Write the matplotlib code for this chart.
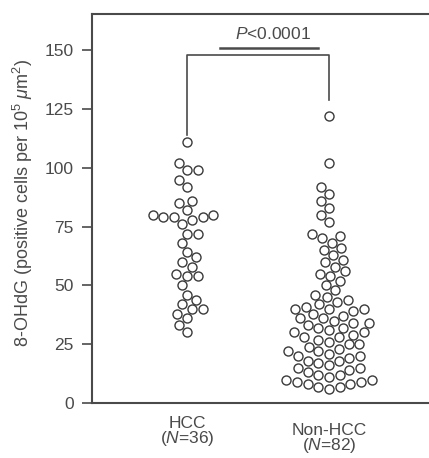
import pandas as pd
import matplotlib
matplotlib.use("Agg")
import matplotlib.pyplot as plt
import seaborn as sns

plt.rcParams["font.family"] = ["Liberation Sans", "DejaVu Sans"]
plt.rcParams["mathtext.fontset"] = "custom"
plt.rcParams["mathtext.rm"] = "Liberation Sans"
plt.rcParams["mathtext.it"] = "Liberation Sans:italic"

# Values (8-OHdG positive cells per 10^5 um^2)
hcc = [111, 102, 99, 99, 95, 92, 86, 85, 82, 80, 80, 79, 79, 79, 78, 76, 72, 72,
       68, 64, 62, 60, 58, 55, 54, 54, 50, 46, 44, 42, 40, 40, 38, 36, 33, 30]
non_hcc = [122, 102, 92, 89, 86, 83, 80, 77,
           72, 71, 70, 68, 66, 65, 63, 61, 60,
           58, 56, 55, 54, 52, 50,
           48, 46, 45, 44, 43, 42, 41, 40, 40, 40, 39,
           38, 37, 36, 36, 35, 34, 34, 33, 32, 32, 31, 30, 30,
           29, 28, 28, 27, 26, 25, 25, 24, 23, 22, 22, 21, 20, 20,
           19, 18, 18, 17, 16, 15, 15, 14, 13, 12, 12, 11, 10, 10,
           9, 9, 8, 8, 7, 7, 6]
groups = ["HCC", "Non-HCC"]
tick_labels = ["HCC\n($\\it{N}$=36)", "Non-HCC\n($\\it{N}$=82)"]
yticks = [0, 25, 50, 75, 100, 125, 150]

df = pd.DataFrame({
    "group": [groups[0]] * len(hcc) + [groups[1]] * len(non_hcc),
    "value": hcc + non_hcc,
})

fig = plt.figure(figsize=(4.29, 4.58), dpi=100)
ax = fig.add_axes([0.2145, 0.120, 0.7855, 0.849])

sns.swarmplot(data=df, x="group", y="value", order=groups, ax=ax,
              size=6.5, color="white", edgecolor="#3a3a3a", linewidth=1.0)

grey = "#4a4a4a"
# significance bracket
ax.plot([0, 0, 1, 1], [114, 148, 148, 129], color=grey, lw=1.2)
ax.plot([0.23, 0.92], [151, 151], color=grey, lw=1.8)
ax.text(0.606, 153.5, "$\\it{P}$<0.0001", ha="center", va="bottom",
        fontsize=12.5, color=grey)

ax.set_xlim(-0.669, 1.704)
ax.set_ylim(0, 165.3)
ax.set_yticks(yticks)
ax.set_xticks([0, 1])
ax.set_xticklabels([])
ax.tick_params(axis="x", length=0)
ax.tick_params(axis="y", length=7, width=1.2, color=grey, labelsize=12.5,
               labelcolor=grey, pad=6)
# group labels under the axis (Non-HCC sits a little lower in the original)
trans = ax.get_xaxis_transform()
for i, (lab, dy) in enumerate(zip(tick_labels, [-0.033, -0.051])):
    ax.text(i, dy, lab, transform=trans, ha="center", va="top",
            fontsize=12.5, color=grey, linespacing=0.9)
ax.set_xlabel("")
ax.set_ylabel("8-OHdG (positive cells per 10$^5$ $\\mu$m$^2$)",
              fontsize=13, color=grey)
ax.yaxis.set_label_coords(-0.17, 0.515)

for side in ["left", "top", "bottom"]:
    ax.spines[side].set_color(grey)
    ax.spines[side].set_linewidth(1.5)
ax.spines["right"].set_visible(False)

fig.savefig("out.png", dpi=100)
